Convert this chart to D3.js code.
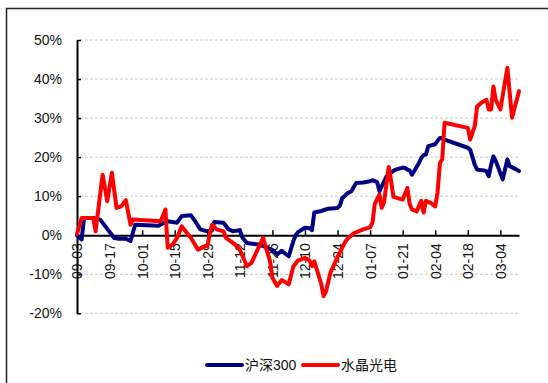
<!DOCTYPE html>
<html><head><meta charset="utf-8">
<script src="https://cdn.jsdelivr.net/npm/d3@7"></script>
<style>
html,body{margin:0;padding:0;background:#fff;}
svg{display:block;}
text{font-family:"Liberation Sans",Arial,"Noto Sans CJK SC",sans-serif;}
</style></head>
<body><svg id="c" width="548" height="383"></svg>
<script>
// ---- data ----
const seriesNames = ["沪深300", "水晶光电"];
const seriesColors = ["#000080", "#ff0000"];
const hs300Dates = ["2012-09-03","2012-09-05","2012-09-06","2012-09-10","2012-09-13","2012-09-19","2012-09-21","2012-09-24","2012-09-26","2012-09-28","2012-10-08","2012-10-11","2012-10-12","2012-10-16","2012-10-18","2012-10-22","2012-10-24","2012-10-26","2012-10-29","2012-10-31","2012-11-01","2012-11-05","2012-11-07","2012-11-09","2012-11-12","2012-11-13","2012-11-15","2012-11-20","2012-11-23","2012-11-26","2012-11-28","2012-11-30","2012-12-03","2012-12-05","2012-12-06","2012-12-07","2012-12-10","2012-12-12","2012-12-13","2012-12-14","2012-12-17","2012-12-20","2012-12-24","2012-12-25","2012-12-26","2012-12-27","2012-12-28","2012-12-30","2013-01-01","2013-01-04","2013-01-07","2013-01-08","2013-01-10","2013-01-11","2013-01-14","2013-01-17","2013-01-18","2013-01-21","2013-01-22","2013-01-23","2013-01-24","2013-01-25","2013-01-28","2013-01-29","2013-01-30","2013-01-31","2013-02-01","2013-02-04","2013-02-05","2013-02-06","2013-02-07","2013-02-08","2013-02-18","2013-02-19","2013-02-20","2013-02-21","2013-02-22","2013-02-25","2013-02-26","2013-02-27","2013-02-28","2013-03-01","2013-03-02","2013-03-05","2013-03-07","2013-03-08","2013-03-11","2013-03-12"];
const hs300Values = [0,-1.1,4.4,4.4,4.0,-0.7,-0.9,-0.9,-1.5,2.7,2.4,3.4,3.6,3.2,4.9,5.1,3.4,1.5,1.0,1.2,3.4,3.2,1.6,1.0,1.3,-0.5,-2.0,-2.4,-3.0,-3.8,-4.9,-4.0,-5.4,-1.5,0.0,0.8,1.9,1.8,1.3,5.8,6.2,6.8,7.0,7.6,9.5,10.0,10.6,11.3,13.4,13.5,13.8,14.1,13.6,11.3,15.0,16.5,16.8,17.3,17.3,16.8,16.6,15.5,18.5,19.8,20.5,20.7,22.8,23.3,24.2,24.9,24.9,24.5,22.4,21.9,20.0,18.0,16.8,16.6,16.4,15.1,18.0,20.2,19.0,14.3,19.4,17.7,16.8,16.4];
const sjgdDates = ["2012-09-03","2012-09-05","2012-09-10","2012-09-11","2012-09-14","2012-09-16","2012-09-18","2012-09-20","2012-09-22","2012-09-24","2012-09-26","2012-09-27","2012-10-09","2012-10-11","2012-10-12","2012-10-14","2012-10-16","2012-10-18","2012-10-19","2012-10-22","2012-10-25","2012-10-28","2012-10-29","2012-10-31","2012-11-02","2012-11-05","2012-11-06","2012-11-08","2012-11-10","2012-11-12","2012-11-15","2012-11-17","2012-11-19","2012-11-22","2012-11-25","2012-11-26","2012-11-28","2012-11-30","2012-12-02","2012-12-03","2012-12-05","2012-12-07","2012-12-10","2012-12-12","2012-12-13","2012-12-14","2012-12-17","2012-12-18","2012-12-19","2012-12-21","2012-12-24","2012-12-27","2012-12-28","2012-12-31","2013-01-04","2013-01-07","2013-01-08","2013-01-09","2013-01-11","2013-01-12","2013-01-13","2013-01-15","2013-01-16","2013-01-17","2013-01-21","2013-01-23","2013-01-24","2013-01-25","2013-01-27","2013-01-29","2013-01-30","2013-01-31","2013-02-02","2013-02-04","2013-02-05","2013-02-06","2013-02-07","2013-02-08","2013-02-18","2013-02-19","2013-02-21","2013-02-22","2013-02-24","2013-02-26","2013-02-27","2013-02-28","2013-03-01","2013-03-02","2013-03-04","2013-03-07","2013-03-09","2013-03-12"];
const sjgdValues = [0.3,4.4,4.4,1.0,15.5,8.7,16.0,7.0,7.4,9.0,2.7,4.0,3.6,6.6,-3.2,-2.4,-0.7,2.3,1.5,-0.7,-3.7,-2.8,-2.8,2.7,1.5,1.0,-0.7,-1.5,-2.4,-3.7,-7.9,-7.1,-4.5,-0.7,-6.7,-10.9,-13.0,-11.5,-12.2,-12.6,-8.0,-6.5,-5.8,-6.5,-7.9,-6.7,-12.5,-15.6,-14.5,-9.5,-5.6,-2.0,-1.1,0.5,1.5,2.0,3.2,8.0,10.4,7.0,8.5,17.5,14.0,9.8,9.1,12.1,8.0,6.6,6.1,8.8,5.8,8.8,8.3,7.4,11.0,18.5,19.4,28.8,27.5,24.5,28.0,33.0,34.0,34.7,32.2,32.2,38.1,34.7,32.2,42.9,30.1,36.9];
const xTickLabels = ["09-03","09-17","10-01","10-15","10-29","11-12","11-26","12-10","12-24","01-07","01-21","02-04","02-18","03-04"];
const xTickYears  = [2012,2012,2012,2012,2012,2012,2012,2012,2012,2013,2013,2013,2013,2013];
const yTicks = [-20,-10,0,10,20,30,40,50];
const xStart = "2012-09-03", xEnd = "2013-03-12";

// ---- chart ----
const parse = d3.timeParse("%Y-%m-%d");
const svg = d3.select("#c");
const L = 77, R = 519, T = 40, B = 313.3;

svg.append("rect").attr("x",6.5).attr("y",8.5).attr("width",600).attr("height",400)
  .attr("fill","none").attr("stroke","#222").attr("stroke-width",1.5);

const x = d3.scaleTime().domain([parse(xStart), parse(xEnd)]).range([L, R]);
const y = d3.scaleLinear().domain([-20, 50]).range([B, T]);

// gridlines
svg.append("g").selectAll("line").data(yTicks.filter(v => v !== 0)).join("line")
  .attr("x1", L + 3).attr("x2", R).attr("y1", d => y(d)).attr("y2", d => y(d))
  .attr("stroke", "#c8c8c8").attr("stroke-width", 1).attr("stroke-dasharray", "3,2");

// y axis
const yAx = svg.append("g").attr("transform", `translate(${L},0)`)
  .call(d3.axisLeft(y).tickValues(yTicks).tickFormat(d => d + "%").tickSizeInner(-4).tickSizeOuter(0).tickPadding(15));
yAx.select(".domain").attr("stroke", "#000").attr("stroke-width", 2);
yAx.selectAll(".tick line").attr("stroke", "#000").attr("stroke-width", 1.5);
yAx.selectAll("text").attr("font-size", 14).attr("fill", "#111")
  .attr("font-family", '"Liberation Sans",Arial,sans-serif');

// x axis at 0
const tickDates = xTickLabels.map((s, i) => parse(xTickYears[i] + "-" + s));
const xAx = svg.append("g").attr("transform", `translate(0,${y(0)})`)
  .call(d3.axisBottom(x).tickValues(tickDates).tickFormat(d3.timeFormat("%m-%d")).tickSizeInner(-5).tickSizeOuter(0).tickPadding(8));
xAx.select(".domain").attr("stroke", "#000").attr("stroke-width", 2);
xAx.selectAll(".tick line").attr("stroke", "#000").attr("stroke-width", 1.5);
xAx.selectAll("text").attr("font-size", 14).attr("fill", "#111")
  .attr("font-family", '"Liberation Sans",Arial,sans-serif')
  .attr("transform", "rotate(-90)").attr("text-anchor", "end")
  .attr("x", -8).attr("y", 0).attr("dy", "0.35em");

// lines
const line = d3.line().x(d => x(d[0])).y(d => y(d[1]));
const series = [
  hs300Dates.map((d, i) => [parse(d), hs300Values[i]]),
  sjgdDates.map((d, i) => [parse(d), sjgdValues[i]])
];
series.forEach((s, i) => {
  svg.append("path").datum(s).attr("d", line).attr("fill", "none")
    .attr("stroke", seriesColors[i]).attr("stroke-width", 4)
    .attr("stroke-linejoin", "round").attr("stroke-linecap", "round");
});

// legend
const lg = svg.append("g");
const legX = [207, 303];
seriesNames.forEach((n, i) => {
  lg.append("line").attr("x1", legX[i]).attr("x2", legX[i] + 35).attr("y1", 365).attr("y2", 365)
    .attr("stroke", seriesColors[i]).attr("stroke-width", 4).attr("stroke-linecap", "round");
  lg.append("text").attr("x", legX[i] + 38).attr("y", 365).attr("dy", "0.36em")
    .attr("font-size", 14).attr("fill", "#111").text(n);
});
</script></body></html>
